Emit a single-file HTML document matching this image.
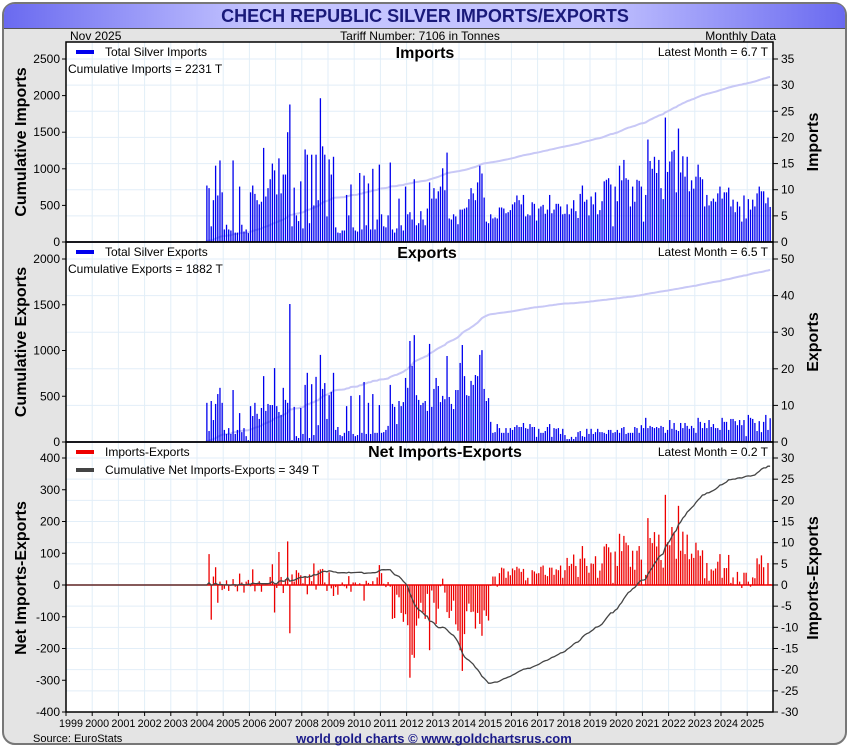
<!DOCTYPE html>
<html><head><meta charset="utf-8"><style>
html,body{margin:0;padding:0;background:#fff;}
svg{display:block;font-family:"Liberation Sans",Arial,sans-serif;}
</style></head><body>
<svg id="chart" width="850" height="750" viewBox="0 0 850 750" xmlns="http://www.w3.org/2000/svg">
<defs>
<linearGradient id="tg" x1="0" x2="1" y1="0" y2="0">
<stop offset="0" stop-color="#6a6af0"/><stop offset="0.3" stop-color="#c4c4ff"/><stop offset="0.7" stop-color="#c4c4ff"/><stop offset="1" stop-color="#6a6af0"/>
</linearGradient>
</defs>
<rect x="3" y="3" width="843" height="741" rx="12" fill="#e4e4e4" stroke="#777" stroke-width="2"/>
<path d="M4,28 L4,15 Q4,4 15,4 L835,4 Q845,4 845,15 L845,28 Z" fill="url(#tg)"/>
<line x1="4" y1="28.5" x2="845" y2="28.5" stroke="#555"/>
<text x="425" y="22" text-anchor="middle" font-size="18" font-weight="bold" fill="#1a1a7a">CHECH REPUBLIC SILVER IMPORTS/EXPORTS</text>
<text x="70" y="40" font-size="12">Nov  2025</text>
<text x="420" y="40" text-anchor="middle" font-size="12">Tariff Number: 7106 in Tonnes</text>
<text x="776" y="40" text-anchor="end" font-size="12">Monthly Data</text>
<rect x="66" y="42" width="707" height="670" fill="#fff"/>
<g id="grid"></g>
<g id="marks"></g>
<g id="axes"></g>
<text x="33" y="742" font-size="11">Source: EuroStats</text>
<text x="434" y="743" text-anchor="middle" font-size="13" font-weight="bold" fill="#1a1a8a">world gold charts © www.goldchartsrus.com</text>
</svg>
<script>
const years = [1999,2000,2001,2002,2003,2004,2005,2006,2007,2008,2009,2010,2011,2012,2013,2014,2015,2016,2017,2018,2019,2020,2021,2022,2023,2024,2025];
const importsMonthly = [10.8,10.3,3,8,14.6,8.9,15.6,9.5,2.4,3.3,2.4,2.2,15.6,1.8,1.8,10.6,3.3,2,2.4,1.7,9.5,10.8,9.2,8,7.2,7.7,18,8.7,10.3,12,15,13.7,9.1,16,9.3,12.9,12.9,21,26.3,3,10.4,5.1,4,11.6,2.6,17.7,16.7,3.6,16.7,7,16.7,8,27.5,18.3,16.7,4.9,15.8,12.9,16.3,2.8,1.8,1.7,2.2,2.2,9,5.1,11,2.8,2.2,2,13.2,2.4,12.7,3.2,11.2,2.4,14,2.4,4.3,14.8,5.3,3,2.8,5.1,15.2,2.4,1.8,2.6,8.3,3.2,2.2,10.6,5.3,5.7,4.3,12,3.2,3.6,5.9,4.3,3.2,6.4,11.4,8.3,10.3,8.3,9.7,10.6,14.1,9.9,17.1,4.5,4.3,5.3,4.9,3.4,6.2,6.2,6.4,6.6,8.2,10.3,9.3,8,11.4,14.6,13.1,8.5,3.9,3.6,5.3,4.5,4.7,4.5,
6.6,6.6,6.4,5.5,5.7,6.1,7.2,7.6,8.9,8.0,7.2,9.0,4.9,5.3,5.1,7.6,7.3,4.1,6.4,6.8,7.1,5.4,6.2,9.0,5.5,6.2,7.3,7.3,6.8,5.3,5.4,7.2,5.3,6.4,8.0,5.9,4.6,9.2,10.8,7.7,8.1,5.1,8.7,7.2,9.5,5.3,6.1,7.8,11.6,11.9,12.2,11.0,3.0,10.6,7.8,14.6,11.8,15.7,12.2,11.9,6.8,10.6,7.7,11.9,11.7,10.6,3.9,9.0,19.6,15.5,14.0,16.3,13.2,15.7,10.3,8.2,23.8,13.4,15.4,17.3,17.6,9.5,21.7,13.3,16.4,12.5,16.3,9.7,11.8,10.2,12.5,14.8,12.4,12.0,6.8,9.0,7.0,7.8,8.3,7.7,9.3,10.6,8.3,9.5,9.5,10.4,6.8,8.1,5.7,7.7,6.8,3.9,8.9,4.5,8.2,6.2,8.1,6.8,9.3,10.6,9.7,9.7,7.4,8.5,6.7];
const exportsMonthly = [10.7,3.0,11.2,6.0,10.4,13.1,14.8,10.7,3.3,2.2,3.8,2.2,14.2,2.2,3.3,7.9,2.7,3.8,1.6,0.5,9.8,7.1,10.7,7.7,6.3,9.3,18.0,8.5,10.4,10.1,10.1,20.2,9.8,8.2,7.4,14.8,11.5,10.7,37.7,0.5,9.6,1.6,1.1,9.3,2.2,15.6,18.9,1.1,15.8,1.9,17.8,4.6,23.8,14.5,16.1,6.3,12.8,13.7,18.9,3.3,4.1,1.9,1.6,2.5,9.8,3.0,12.6,2.2,1.6,1.9,12.8,2.5,16.4,2.2,10.7,2.2,13.1,2.5,2.5,10.1,2.5,2.7,3.3,4.4,15.6,10.4,9.6,4.9,11.2,9.8,10.9,17.5,14.8,27.6,20.8,29.2,12.8,11.5,10.1,10.7,11.2,8.5,26.8,9.6,14.5,17.5,15.3,10.9,12.6,11.7,23.5,12.3,10.4,9.0,14.2,14.2,21.6,26.5,18.0,12.8,12.6,16.7,15.6,18.3,18.0,23.8,25.1,14.5,11.2,12.0,5.5,2.5,2.7,4.9,
3.8,2.5,2.5,3.8,2.5,3.8,3.3,4.1,4.6,4.1,4.1,5.2,3.8,3.6,4.9,4.1,4.1,1.4,3.6,2.5,2.5,3.0,4.1,4.9,1.4,3.8,3.6,3.8,2.2,3.6,1.9,0.8,0.8,1.4,0.8,1.4,2.7,3.0,1.6,1.4,3.6,2.2,3.6,2.2,2.7,3.6,2.7,2.7,2.5,2.2,3.3,3.3,2.5,2.7,3.3,2.5,3.8,4.1,2.2,2.5,2.5,2.5,4.1,3.8,2.5,4.6,3.8,6.6,3.8,4.4,4.1,3.8,4.1,3.8,4.4,4.1,2.5,3.3,6.0,3.6,5.2,3.3,3.0,5.2,3.8,5.2,4.4,3.6,4.4,3.8,2.5,6.6,5.5,3.8,5.2,3.8,6.0,4.1,4.9,3.8,3.8,3.3,6.6,5.5,5.5,3.3,6.3,6.3,5.7,4.6,6.0,4.6,6.0,1.6,7.4,6.6,6.3,5.2,3.0,5.7,2.7,5.5,7.4,3.3,6.5];
const imp1Ticks = [0,500,1000,1500,2000,2500];
const imp1Right = [0,5,10,15,20,25,30,35];
const exp1Ticks = [0,500,1000,1500,2000];
const exp1Right = [0,10,20,30,40,50];
const netTicks = [-400,-300,-200,-100,0,100,200,300,400];
const netRight = [-30,-25,-20,-15,-10,-5,0,5,10,15,20,25,30];
const lastMonthT = 2025 + 10.5/12;

const NS = 'http://www.w3.org/2000/svg';
const X0 = 66, X1 = 773, PX = 26.2;
function xs(t){ return X0 + (t - 1999) * PX; }
function mk(tag, attrs, parent){ const e = document.createElementNS(NS, tag); for (const k in attrs) e.setAttribute(k, attrs[k]); parent.appendChild(e); return e; }
const grid = document.getElementById('grid'), marks = document.getElementById('marks'), axes = document.getElementById('axes');
const panels = [
 {top:42, bot:242, lMin:0, lMax:2500, lY:59, rMin:0, rMax:35, rTop:59, lt:imp1Ticks, rt:imp1Right},
 {top:242, bot:442, lMin:0, lMax:2000, lY:259, rMin:0, rMax:50, rTop:259, lt:exp1Ticks, rt:exp1Right},
 {top:442, bot:712, lMin:-400, lMax:400, lY:458, rMin:-30, rMax:30, rTop:458, lt:netTicks, rt:netRight}
];
panels.forEach(p => {
  p.yl = v => p.bot - (v - p.lMin) / (p.lMax - p.lMin) * (p.bot - p.lY);
  p.yr = v => p.bot - (v - p.rMin) / (p.rMax - p.rMin) * (p.bot - p.rTop);
});
years.forEach(y => {
  const gx = xs(y);
  if (gx > X0 + 1) {
    const l = mk('line', {x1:gx, x2:gx, y1:42, y2:712, stroke:'#e2eef8', 'stroke-width':1}, grid);
    
    
  }
});
panels.forEach(p => {
  p.rt.forEach(v => {
    const gy = p.yr(v);
    const l = mk('line', {x1:X0, x2:X1, y1:gy, y2:gy, stroke:'#e2eef8', 'stroke-width':1}, grid);
    
    
  });
});
function tOf(i, n){ return lastMonthT - (n - 1 - i) / 12; }
function bars(arr, p, color, name){
  const n = arr.length;
  arr.forEach((v, i) => {
    const x = xs(tOf(i, n));
    const y0 = p.yr(0), y1 = p.yr(v);
    const r = mk('rect', {x:x - 0.6, y:Math.min(y0, y1), width:1.3, height:Math.max(0.5, Math.abs(y1 - y0)), fill:color}, marks);
    
    
  });
}
function cumLine(arr, p, color, w, name){
  const n = arr.length; let s = 0;
  const pts = [[X0, p.yl(0)], [xs(tOf(0, n)) - 1, p.yl(0)]];
  arr.forEach((v, i) => { s += v; pts.push([xs(tOf(i, n)), p.yl(s)]); });
  const l = mk('polyline', {points:pts.map(q => q[0].toFixed(1) + ',' + q[1].toFixed(1)).join(' '), fill:'none', stroke:color, 'stroke-width':w}, marks);
  
  
  return s;
}
const nN = Math.min(importsMonthly.length, exportsMonthly.length);
const netMonthly = [];
for (let i = 0; i < nN; i++) netMonthly.push(+(importsMonthly[importsMonthly.length - nN + i] - exportsMonthly[exportsMonthly.length - nN + i]).toFixed(2));
cumLine(importsMonthly, panels[0], '#c8c8f6', 2, 'cumulative-imports-line');
bars(importsMonthly, panels[0], '#0000ee', 'import-bar');
cumLine(exportsMonthly, panels[1], '#c8c8f6', 2, 'cumulative-exports-line');
bars(exportsMonthly, panels[1], '#0000ee', 'export-bar');
const zl = mk('line', {x1:X0, x2:X1, y1:panels[2].yr(0), y2:panels[2].yr(0), stroke:'#ee0000', 'stroke-width':1.5}, marks);


bars(netMonthly, panels[2], '#ee0000', 'net-bar');
cumLine(netMonthly, panels[2], '#444', 1.3, 'cumulative-net-line');
panels.forEach((p, k) => {
  const r = mk('rect', {x:X0, y:p.top, width:X1 - X0, height:p.bot - p.top, fill:'none', stroke:'#000', 'stroke-width':1.5}, axes);
  
  
  p.lt.forEach(v => {
    const y = p.yl(v);
    mk('line', {x1:X0 - 4, x2:X0, y1:y, y2:y, stroke:'#000'}, axes);
    const t = mk('text', {x:X0 - 6, y:y + 4, 'text-anchor':'end', 'font-size':12}, axes);
    t.textContent = v;
    
    
  });
  p.rt.forEach(v => {
    const y = p.yr(v);
    mk('line', {x1:X1, x2:X1 + 5, y1:y, y2:y, stroke:'#000'}, axes);
    const t = mk('text', {x:X1 + 8, y:y + 4, 'font-size':12}, axes);
    t.textContent = v;
    
    
  });
});
years.forEach(y => {
  const x = xs(y);
  mk('line', {x1:x, x2:x, y1:712, y2:716, stroke:'#000'}, axes);
  const t = mk('text', {x:x + 5, y:727, 'text-anchor':'middle', 'font-size':11, textLength:24, lengthAdjust:'spacingAndGlyphs'}, axes);
  t.textContent = y;
  
  
});
function txt(s, attrs, name){
  const t = mk('text', attrs, axes); t.textContent = s;
  
  
  return t;
}
function sw(y, color, name){
  const r = mk('rect', {x:76, y:y - 2, width:18, height:4, fill:color}, axes);
  
  
}
const axT = {'font-size':16, 'font-weight':'bold', 'text-anchor':'middle'};
txt('Cumulative Imports', Object.assign({transform:'translate(26,142) rotate(-90)'}, axT), 'left-axis-title-imports');
txt('Imports', Object.assign({transform:'translate(818,142) rotate(-90)'}, axT), 'right-axis-title-imports');
txt('Cumulative Exports', Object.assign({transform:'translate(26,342) rotate(-90)'}, axT), 'left-axis-title-exports');
txt('Exports', Object.assign({transform:'translate(818,342) rotate(-90)'}, axT), 'right-axis-title-exports');
txt('Net Imports-Exports', Object.assign({transform:'translate(26,578) rotate(-90)'}, axT), 'left-axis-title-net');
txt('Imports-Exports', Object.assign({transform:'translate(818,578) rotate(-90)'}, axT), 'right-axis-title-net');
sw(52, '#0000ee', 'legend-swatch-imports');
txt('Total Silver Imports', {x:105, y:56, 'font-size':12}, 'legend-imports');
txt('Cumulative Imports = 2231 T', {x:68, y:73, 'font-size':12}, 'cumulative-imports-label');
txt('Imports', {x:425, y:58, 'font-size':16, 'font-weight':'bold', 'text-anchor':'middle'}, 'panel-title-imports');
txt('Latest Month = ' + importsMonthly[importsMonthly.length - 1] + ' T', {x:768, y:56, 'font-size':12, 'text-anchor':'end'}, 'latest-imports-label');
sw(252, '#0000ee', 'legend-swatch-exports');
txt('Total Silver Exports', {x:105, y:256, 'font-size':12}, 'legend-exports');
txt('Cumulative Exports = 1882 T', {x:68, y:273, 'font-size':12}, 'cumulative-exports-label');
txt('Exports', {x:427, y:258, 'font-size':16, 'font-weight':'bold', 'text-anchor':'middle'}, 'panel-title-exports');
txt('Latest Month = ' + exportsMonthly[exportsMonthly.length - 1] + ' T', {x:768, y:256, 'font-size':12, 'text-anchor':'end'}, 'latest-exports-label');
sw(452, '#ee0000', 'legend-swatch-net');
txt('Imports-Exports', {x:105, y:456, 'font-size':12}, 'legend-net');
sw(470, '#444', 'legend-swatch-cumulative-net');
txt('Cumulative Net Imports-Exports = 349 T', {x:105, y:474, 'font-size':12}, 'legend-cumulative-net');
txt('Net Imports-Exports', {x:445, y:457, 'font-size':16, 'font-weight':'bold', 'text-anchor':'middle'}, 'panel-title-net');
txt('Latest Month = ' + netMonthly[netMonthly.length - 1].toFixed(1) + ' T', {x:768, y:456, 'font-size':12, 'text-anchor':'end'}, 'latest-net-label');
</script>
</body></html>
